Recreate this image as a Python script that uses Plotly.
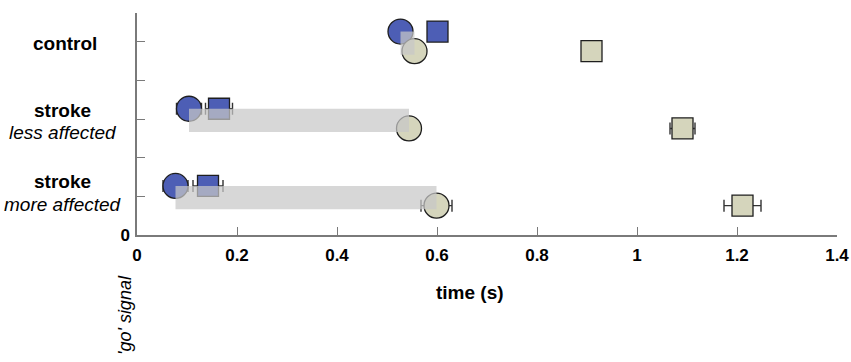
import plotly.graph_objects as go

# ---- data ----
groups = ["control", "stroke less", "stroke more"]
row_pos = [5, 3, 1]
label_main = ["control", "stroke", "stroke"]
label_sub = ["", "less affected", "more affected"]

blue_circle = [0.527, 0.104, 0.077]
blue_circle_err = [0.010, 0.025, 0.025]
blue_square = [0.601, 0.164, 0.142]
blue_square_err = [0.010, 0.027, 0.030]
tan_circle = [0.555, 0.544, 0.599]
tan_circle_err = [0.010, 0.022, 0.031]
tan_square = [0.909, 1.091, 1.211]
tan_square_err = [0.010, 0.025, 0.037]

x_ticks = [0, 0.2, 0.4, 0.6, 0.8, 1.0, 1.2, 1.4]
x_ticktext = ["0", "0.2", "0.4", "0.6", "0.8", "1", "1.2", "1.4"]
y_ticks = [0, 1, 2, 3, 4, 5, 5.75]
y_ticktext = ["0", "", "", "", "", "", ""]

# ---- style ----
BLUE = "#4d5eb5"
TAN = "#d5d5bc"
EDGE = "#1e1e1e"
AXIS = "#7a7a7a"
FONT = "Liberation Sans"
up, down = 0.27, -0.24

fig = go.Figure()

def add(xs, errs, dy, symbol, size, color):
    fig.add_trace(go.Scatter(
        x=xs, y=[r + dy for r in row_pos], mode="markers",
        marker=dict(symbol=symbol, size=size, color=color,
                    line=dict(color=EDGE, width=1.3)),
        error_x=dict(type="data", array=errs, color="#333333",
                     thickness=1.4, width=6),
        showlegend=False, hoverinfo="x"))

add(blue_square, blue_square_err, up, "square", 21, BLUE)
add(blue_circle, blue_circle_err, up, "circle", 25, BLUE)
add(tan_square, tan_square_err, down, "square", 21, TAN)
add(tan_circle, tan_circle_err, down, "circle", 25, TAN)

# grey delay bars from blue circle to tan circle
for i, r in enumerate(row_pos):
    fig.add_shape(type="rect", xref="x", yref="y",
                  x0=blue_circle[i], x1=tan_circle[i],
                  y0=r + up, y1=r + down - 0.09,
                  fillcolor="rgba(200,200,200,0.72)", line=dict(width=0),
                  layer="above")

# category labels
for i, r in enumerate(row_pos):
    if label_sub[i]:
        fig.add_annotation(x=-0.106, xref="paper", y=r, yref="y",
                           text="<b>%s</b>" % label_main[i], showarrow=False,
                           xanchor="center", yanchor="middle",
                           yshift=(9 if i == 1 else 15),
                           font=dict(family=FONT, size=19, color="black"))
        fig.add_annotation(x=-0.106, xref="paper", y=r, yref="y",
                           text="<i>%s</i>" % label_sub[i], showarrow=False,
                           xanchor="center", yanchor="middle",
                           yshift=(-13 if i == 1 else -8),
                           font=dict(family=FONT, size=19, color="black"))
    else:
        fig.add_annotation(x=-0.103, xref="paper", y=r, yref="y",
                           text="<b>%s</b>" % label_main[i], showarrow=False,
                           xanchor="center", yanchor="middle", yshift=-2,
                           font=dict(family=FONT, size=19, color="black"))

fig.add_annotation(x=0.666, xref="x", y=-0.257, yref="paper",
                   text="<b>time (s)</b>", showarrow=False,
                   xanchor="center", yanchor="middle",
                   font=dict(family=FONT, size=19, color="black"))
fig.add_annotation(x=-0.017, xref="paper", y=-0.36, yref="paper",
                   text="<i>'go' signal</i>", showarrow=False, textangle=-90,
                   xanchor="center", yanchor="middle",
                   font=dict(family=FONT, size=18, color="black"))

fig.update_xaxes(range=[0, 1.4], tickvals=x_ticks, ticktext=x_ticktext,
                 showline=True, linecolor=AXIS, linewidth=1.5,
                 ticks="inside", ticklen=8, tickwidth=1.3, tickcolor=AXIS,
                 showgrid=False, zeroline=False, ticklabelstandoff=4,
                 automargin=False,
                 tickfont=dict(family=FONT, size=17, color="black", weight="bold"))
fig.update_yaxes(range=[0, 5.75], tickvals=y_ticks, ticktext=y_ticktext,
                 showline=True, linecolor=AXIS, linewidth=1.5,
                 ticks="inside", ticklen=8, tickwidth=1.3, tickcolor=AXIS,
                 showgrid=False, zeroline=False, ticklabelstandoff=2,
                 automargin=False,
                 tickfont=dict(family=FONT, size=17, color="black", weight="bold"))

fig.update_layout(width=851, height=362,
                  margin=dict(l=137, r=14, t=13, b=127),
                  plot_bgcolor="white", paper_bgcolor="white")

# remove the browser's default 8px page margin so the figure fills the window
fig.write_html("out.html",
               config={"displayModeBar": False},
               post_script="document.body.style.margin='0';"
                           "document.body.style.overflow='hidden';")
